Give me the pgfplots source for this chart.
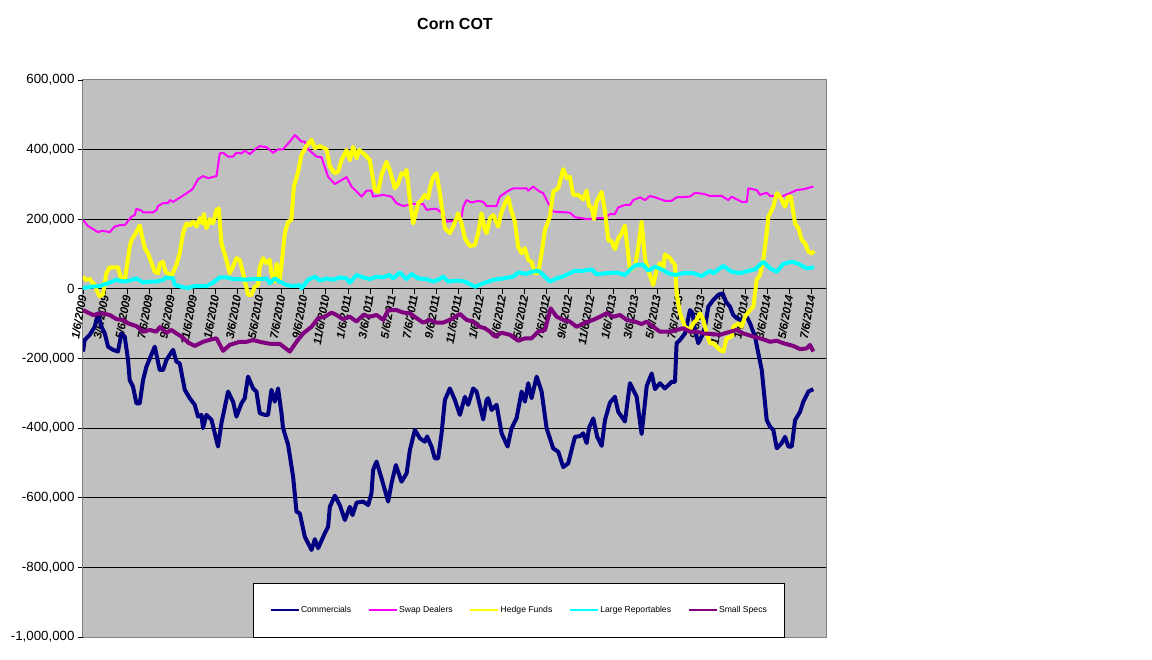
\documentclass[border=0pt]{standalone}
\usepackage{fontspec}
\setmainfont{Liberation Sans}
\usepackage{pgfplots}
\pgfplotsset{compat=1.18}
\definecolor{bggray}{HTML}{C0C0C0}
\definecolor{framegray}{HTML}{808080}
\definecolor{cComm}{HTML}{000080}
\definecolor{cSwap}{HTML}{FF00FF}
\definecolor{cHedge}{HTML}{FFFF00}
\definecolor{cLarge}{HTML}{00FFFF}
\definecolor{cSmall}{HTML}{800080}
\begin{document}
\begin{tikzpicture}
\fill[white] (0pt,0pt) rectangle (1152pt,-660pt);
\path[use as bounding box] (0pt,0pt) rectangle (1152pt,-660pt);
\node[font=\bfseries\fontsize{16}{18}\selectfont] at (455pt,-24pt) {Corn COT};
\begin{axis}[
  at={(83pt,-637pt)}, anchor=south west,
  width=743pt, height=557pt, scale only axis,
  xmin=0, xmax=67.3, ymin=-1000000, ymax=600000,
  enlargelimits=false,
  axis x line=middle, axis y line=left,
  hide obscured x ticks=false,
  axis line style={-},
  x axis line style={draw=black, line width=1pt},
  y axis line style={draw=framegray, line width=1pt},
  axis background/.style={fill=bggray, draw=framegray, line width=1pt},
  tick align=outside,
  major tick length=5pt,
  tick style={black, line width=0.8pt},
  xtick={0,2,...,66},
  xticklabels={1/6/2009,3/6/2009,5/6/2009,7/6/2009,9/6/2009,11/6/2009,
    1/6/2010,3/6/2010,5/6/2010,7/6/2010,9/6/2010,11/6/2010,
    1/6/2011,3/6/2011,5/6/2011,7/6/2011,9/6/2011,11/6/2011,
    1/6/2012,3/6/2012,5/6/2012,7/6/2012,9/6/2012,11/6/2012,
    1/6/2013,3/6/2013,5/6/2013,7/6/2013,9/6/2013,11/6/2013,
    1/6/2014,3/6/2014,5/6/2014,7/6/2014},
  x tick label style={rotate=80, anchor=east, inner sep=1pt,
    font=\bfseries\itshape\fontsize{11.5}{12}\selectfont},
  scaled y ticks=false,
  ytick={-800000,-600000,-400000,-200000,0,200000,400000},
  yticklabels={{-800,000},{-600,000},{-400,000},{-200,000},{0},{200,000},{400,000}},
  extra y ticks={-1000000,600000},
  extra y tick labels={{-1,000,000},{600,000}},
  extra y tick style={grid=none},
  y tick label style={font=\fontsize{13.3}{14}\selectfont, anchor=east},
  ymajorgrids,
  major grid style={draw=black, line width=1pt},
  legend columns=5,
  legend image code/.code={\draw[#1, line width=2pt] (0pt,0pt) -- (28pt,0pt);},
  legend style={at={(0.2288,0.0969)}, anchor=north west, draw=black, line width=1pt,
    fill=white, font=\fontsize{8.6}{10}\selectfont,
    inner xsep=16pt, inner ysep=22pt, column sep=0pt,
    nodes={inner xsep=1.5pt, inner ysep=1pt},
    /tikz/every even column/.append style={column sep=15pt}},
]
\addplot[color=cComm, line width=4pt, line join=round] coordinates {
(0,-180000)(0.15,-147000)(0.61,-132000)(1.06,-109000)(1.36,-70000)(1.67,-109000)(1.97,-128000)(2.27,-166000)(2.72,-175000)(3.17,-180000)(3.48,-128000)(3.78,-137000)(4.08,-204000)(4.23,-262000)(4.53,-281000)(4.84,-329000)(5.14,-329000)(5.44,-262000)(5.75,-223000)(6.50,-166000)(6.95,-233000)(7.25,-233000)(7.56,-204000)(8.16,-175000)(8.46,-209000)(8.76,-214000)(9.22,-290000)(9.67,-314000)(10.12,-333000)(10.42,-367000)(10.73,-362000)(10.87,-400000)(11.18,-362000)(11.64,-376000)(12.23,-453000)(12.54,-386000)(13.14,-295000)(13.59,-324000)(13.90,-367000)(14.35,-329000)(14.65,-314000)(14.95,-252000)(15.41,-286000)(15.71,-295000)(16.01,-357000)(16.47,-362000)(16.76,-362000)(17.07,-290000)(17.37,-324000)(17.67,-286000)(17.98,-357000)(18.12,-400000)(18.58,-448000)(19.03,-539000)(19.34,-640000)(19.64,-645000)(20.09,-712000)(20.70,-750000)(21.00,-719000)(21.30,-745000)(21.90,-702000)(22.20,-683000)(22.36,-626000)(22.81,-594000)(23.26,-621000)(23.72,-664000)(24.17,-626000)(24.41,-650000)(24.78,-614000)(25.37,-611000)(25.83,-621000)(26.13,-587000)(26.28,-520000)(26.59,-496000)(27.04,-544000)(27.64,-611000)(27.95,-558000)(28.34,-506000)(28.85,-554000)(29.31,-530000)(29.61,-463000)(30.06,-405000)(30.51,-429000)(30.96,-439000)(31.17,-424000)(31.57,-453000)(31.87,-487000)(32.17,-487000)(32.48,-415000)(32.78,-319000)(33.23,-286000)(33.68,-319000)(34.14,-362000)(34.59,-310000)(34.89,-333000)(35.34,-286000)(35.65,-295000)(36.25,-375000)(36.56,-319000)(36.70,-314000)(37.01,-348000)(37.46,-333000)(37.92,-415000)(38.46,-453000)(38.82,-400000)(39.27,-372000)(39.73,-295000)(40.03,-324000)(40.33,-271000)(40.63,-314000)(41.09,-252000)(41.54,-295000)(41.99,-400000)(42.59,-458000)(43.05,-468000)(43.50,-512000)(43.95,-501000)(44.56,-425000)(45.01,-423000)(45.31,-415000)(45.62,-443000)(45.85,-398000)(46.22,-372000)(46.58,-425000)(46.98,-451000)(47.28,-377000)(47.73,-327000)(48.18,-310000)(48.48,-353000)(49.09,-381000)(49.54,-271000)(50.15,-310000)(50.60,-417000)(51.06,-279000)(51.51,-243000)(51.81,-288000)(52.26,-271000)(52.71,-286000)(53.32,-267000)(53.62,-267000)(53.77,-156000)(54.07,-147000)(54.53,-128000)(54.98,-61000)(55.22,-70000)(55.43,-118000)(55.73,-156000)(56.04,-137000)(56.34,-109000)(56.64,-51000)(57.09,-32000)(57.55,-17000)(57.94,-13000)(58.24,-37000)(58.60,-51000)(58.90,-75000)(59.21,-84000)(59.51,-89000)(60.12,-80000)(60.42,-99000)(60.87,-137000)(61.17,-185000)(61.48,-233000)(61.93,-377000)(62.23,-396000)(62.53,-405000)(62.84,-458000)(63.29,-443000)(63.59,-425000)(63.89,-453000)(64.20,-453000)(64.50,-377000)(64.95,-353000)(65.25,-324000)(65.70,-295000)(66.15,-288000)
};
\addlegendentry{Commercials}
\addplot[color=cSwap, line width=2pt, line join=round] coordinates {
(0,198000)(0.43,181000)(1.36,163000)(1.79,167000)(2.42,163000)(2.87,179000)(3.33,183000)(3.78,183000)(4.39,207000)(4.69,212000)(4.84,230000)(5.29,225000)(5.44,220000)(6.34,220000)(6.65,226000)(6.80,238000)(7.25,246000)(7.70,246000)(7.86,255000)(8.16,250000)(8.92,265000)(9.82,284000)(9.97,289000)(10.42,315000)(10.87,324000)(11.33,318000)(12.09,324000)(12.39,389000)(12.69,391000)(13.14,380000)(13.59,380000)(13.90,391000)(14.35,389000)(14.65,397000)(15.11,387000)(15.71,404000)(16.01,410000)(16.62,407000)(17.22,391000)(17.67,401000)(18.12,401000)(18.73,423000)(19.19,442000)(19.79,423000)(20.09,423000)(20.39,401000)(21.15,380000)(21.60,378000)(22.20,322000)(22.81,301000)(23.87,321000)(24.32,294000)(25.23,265000)(25.68,282000)(26.13,282000)(26.28,265000)(27.19,270000)(27.95,265000)(28.40,246000)(29.00,238000)(29.91,244000)(30.81,244000)(31.12,227000)(31.72,230000)(32.02,230000)(32.62,215000)(32.93,193000)(33.84,196000)(34.29,206000)(34.44,236000)(34.74,255000)(35.20,248000)(35.79,253000)(36.25,250000)(36.56,238000)(37.46,238000)(37.76,265000)(38.37,279000)(38.97,289000)(40.18,289000)(40.33,282000)(40.78,294000)(41.24,282000)(41.69,275000)(42.14,246000)(42.59,222000)(44.10,219000)(44.56,206000)(45.76,200000)(46.22,203000)(47.28,203000)(47.73,215000)(48.18,215000)(48.48,234000)(49.09,241000)(49.54,241000)(49.84,255000)(50.45,263000)(50.90,255000)(51.36,267000)(51.81,263000)(52.71,253000)(53.32,253000)(53.77,263000)(54.98,265000)(55.43,276000)(56.19,273000)(56.79,267000)(57.85,267000)(58.45,255000)(58.75,265000)(59.66,250000)(60.12,250000)(60.27,289000)(61.02,284000)(61.32,270000)(61.93,276000)(62.23,267000)(63.43,267000)(64.04,275000)(64.65,284000)(65.25,286000)(66.15,294000)
};
\addlegendentry{Swap Dealers}
\addplot[color=cHedge, line width=4pt, line join=round] coordinates {
(0,35000)(0.24,26000)(0.61,28000)(1.06,11000)(1.36,-13000)(1.51,-22000)(1.81,-15000)(2.12,45000)(2.42,62000)(3.17,62000)(3.48,26000)(3.78,24000)(4.23,121000)(4.39,140000)(4.69,155000)(5.14,182000)(5.29,160000)(5.59,117000)(5.89,102000)(6.20,75000)(6.50,49000)(6.80,45000)(6.95,72000)(7.25,78000)(7.47,49000)(7.70,45000)(8.01,35000)(8.31,59000)(8.46,69000)(8.76,102000)(9.06,160000)(9.37,188000)(9.67,182000)(9.97,193000)(10.28,179000)(10.58,203000)(10.82,188000)(10.94,215000)(11.18,174000)(11.48,200000)(11.78,188000)(12.09,227000)(12.30,231000)(12.54,131000)(12.99,83000)(13.29,45000)(13.59,64000)(13.90,88000)(14.20,83000)(14.50,45000)(14.95,-17000)(15.26,-17000)(15.56,6000)(15.86,11000)(16.01,62000)(16.31,88000)(16.62,74000)(16.92,83000)(17.07,45000)(17.37,21000)(17.53,72000)(17.82,26000)(17.98,69000)(18.28,160000)(18.58,193000)(18.88,198000)(19.10,294000)(19.49,337000)(19.79,385000)(20.24,410000)(20.70,428000)(21.00,404000)(21.45,410000)(22.06,401000)(22.36,351000)(22.81,332000)(23.11,337000)(23.42,370000)(23.87,399000)(24.17,370000)(24.47,408000)(24.78,375000)(25.01,399000)(25.53,385000)(25.98,370000)(26.13,342000)(26.43,284000)(26.73,279000)(27.04,327000)(27.49,365000)(27.79,342000)(28.25,289000)(28.55,303000)(28.85,332000)(29.15,327000)(29.31,342000)(29.61,255000)(29.91,188000)(30.36,246000)(30.67,255000)(30.96,270000)(31.26,260000)(31.42,289000)(31.72,322000)(32.02,332000)(32.33,275000)(32.78,174000)(33.23,160000)(33.53,179000)(33.98,217000)(34.29,188000)(34.59,145000)(35.04,123000)(35.50,126000)(35.79,160000)(36.10,217000)(36.40,169000)(36.56,160000)(36.86,203000)(37.16,212000)(37.61,179000)(37.92,222000)(38.22,246000)(38.51,263000)(38.82,222000)(39.12,193000)(39.42,121000)(39.73,102000)(40.03,117000)(40.33,83000)(40.63,78000)(40.93,45000)(41.23,45000)(41.54,102000)(41.84,169000)(42.29,207000)(42.59,279000)(43.05,289000)(43.50,344000)(43.81,318000)(44.10,322000)(44.40,270000)(44.86,270000)(45.31,257000)(45.62,282000)(45.85,236000)(46.07,236000)(46.28,200000)(46.52,250000)(46.98,279000)(47.28,222000)(47.58,140000)(47.89,136000)(48.18,114000)(48.48,145000)(48.79,160000)(49.09,182000)(49.54,54000)(50.00,64000)(50.30,121000)(50.60,193000)(50.90,88000)(51.20,54000)(51.65,11000)(51.96,54000)(52.26,74000)(52.56,59000)(52.71,99000)(53.17,88000)(53.47,74000)(53.62,69000)(53.77,-13000)(54.07,-70000)(54.53,-109000)(54.98,-118000)(55.28,-99000)(55.58,-89000)(55.88,-70000)(56.19,-89000)(56.49,-128000)(56.79,-156000)(57.09,-156000)(57.70,-176000)(58.00,-180000)(58.30,-142000)(58.75,-137000)(58.90,-109000)(59.36,-99000)(59.66,-109000)(59.96,-80000)(60.42,-61000)(60.72,-51000)(61.02,26000)(61.32,40000)(61.62,83000)(61.93,160000)(62.08,207000)(62.53,236000)(62.84,275000)(63.14,265000)(63.59,236000)(63.89,265000)(64.11,265000)(64.50,188000)(64.80,174000)(65.11,140000)(65.41,131000)(65.70,107000)(66.00,102000)(66.22,109000)
};
\addlegendentry{Hedge Funds}
\addplot[color=cLarge, line width=4pt, line join=round] coordinates {
(0,2000)(0.61,6000)(1.51,8000)(2.42,18000)(3.03,26000)(3.62,21000)(4.23,24000)(4.84,30000)(5.44,18000)(6.04,21000)(6.65,21000)(7.25,26000)(7.56,33000)(8.16,30000)(8.31,11000)(8.92,6000)(9.52,2000)(9.82,6000)(10.28,8000)(11.18,8000)(11.78,18000)(12.39,33000)(12.99,33000)(13.59,28000)(14.20,28000)(14.81,26000)(15.41,29000)(16.01,28000)(16.62,30000)(16.92,16000)(17.37,30000)(17.82,21000)(18.43,11000)(19.03,8000)(19.64,11000)(19.79,2000)(20.39,26000)(21.00,35000)(21.45,24000)(22.06,30000)(22.66,26000)(23.26,33000)(23.87,30000)(24.17,18000)(24.78,40000)(25.37,33000)(25.98,28000)(26.59,35000)(27.19,33000)(27.79,40000)(28.09,30000)(28.70,47000)(29.31,28000)(29.76,43000)(30.36,30000)(31.12,28000)(31.72,21000)(32.17,26000)(32.62,35000)(33.08,21000)(33.84,24000)(34.59,21000)(35.50,6000)(36.25,16000)(37.16,26000)(38.06,30000)(38.97,35000)(39.42,47000)(40.18,43000)(40.63,49000)(41.23,52000)(41.69,40000)(42.29,21000)(42.90,30000)(43.50,36000)(44.10,45000)(44.56,52000)(45.31,52000)(46.07,56000)(46.52,42000)(47.43,45000)(48.34,47000)(49.09,40000)(49.69,59000)(50.15,69000)(50.75,69000)(51.20,52000)(51.81,64000)(52.41,56000)(53.01,45000)(53.62,40000)(54.37,45000)(55.28,45000)(56.04,37000)(56.79,52000)(57.09,45000)(58.00,66000)(58.75,49000)(59.51,45000)(60.27,52000)(60.87,56000)(61.62,78000)(62.23,59000)(62.84,49000)(63.43,72000)(64.20,78000)(64.80,72000)(65.55,59000)(66.22,62000)
};
\addlegendentry{Large Reportables}
\addplot[color=cSmall, line width=4pt, line join=round] coordinates {
(0,-61000)(0.91,-75000)(1.67,-70000)(2.42,-75000)(3.03,-87000)(3.62,-89000)(4.08,-99000)(4.84,-107000)(5.44,-123000)(6.04,-118000)(6.65,-123000)(6.95,-110000)(7.56,-126000)(8.01,-118000)(8.46,-128000)(8.92,-137000)(9.52,-154000)(10.12,-164000)(10.87,-152000)(11.64,-145000)(12.09,-142000)(12.69,-178000)(13.29,-161000)(14.20,-152000)(14.81,-152000)(15.41,-147000)(16.01,-152000)(16.62,-156000)(17.07,-158000)(17.82,-158000)(18.73,-180000)(19.34,-152000)(19.94,-128000)(20.70,-109000)(21.30,-84000)(21.90,-80000)(22.51,-68000)(22.96,-75000)(23.56,-87000)(24.17,-80000)(24.78,-94000)(25.37,-75000)(25.98,-80000)(26.59,-75000)(27.19,-89000)(27.64,-61000)(28.40,-61000)(29.00,-68000)(29.61,-70000)(30.21,-84000)(30.81,-97000)(31.42,-89000)(32.02,-97000)(32.62,-97000)(33.38,-87000)(34.14,-72000)(34.74,-89000)(35.34,-94000)(35.94,-109000)(36.40,-113000)(36.86,-123000)(37.31,-137000)(37.92,-126000)(38.67,-132000)(39.42,-149000)(40.03,-142000)(40.63,-142000)(41.23,-123000)(41.84,-118000)(42.36,-56000)(42.90,-80000)(43.50,-89000)(44.10,-94000)(44.71,-109000)(45.47,-97000)(46.22,-89000)(46.82,-80000)(47.43,-70000)(48.04,-80000)(48.64,-75000)(49.24,-89000)(50.00,-94000)(50.60,-101000)(51.06,-94000)(51.65,-109000)(52.26,-123000)(53.17,-123000)(53.77,-118000)(54.37,-113000)(54.98,-123000)(55.58,-123000)(56.19,-128000)(57.09,-130000)(57.70,-132000)(58.30,-126000)(59.21,-118000)(59.81,-128000)(60.72,-137000)(61.62,-145000)(62.23,-152000)(62.84,-149000)(63.43,-156000)(64.34,-164000)(64.95,-173000)(65.55,-171000)(65.85,-161000)(66.15,-180000)
};
\addlegendentry{Small Specs}
\end{axis}
\end{tikzpicture}
\end{document}
